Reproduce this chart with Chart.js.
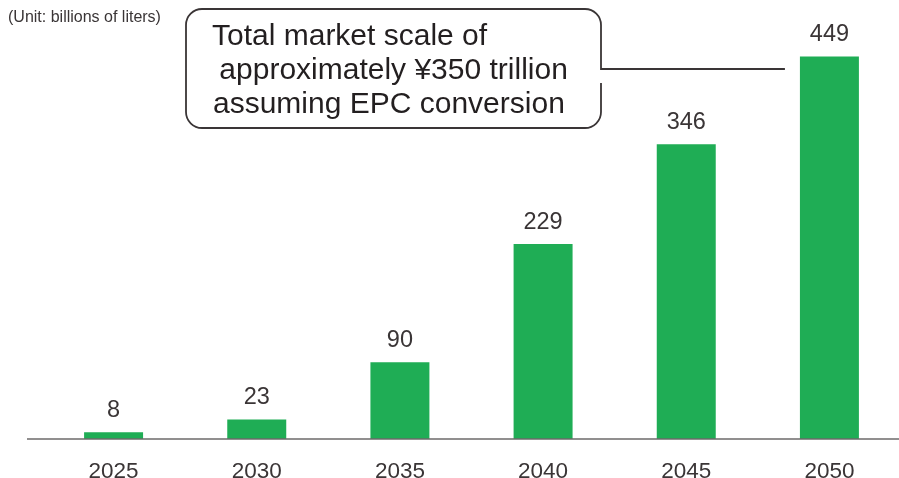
<!DOCTYPE html>
<html>
<head>
<meta charset="utf-8">
<script src="https://cdn.jsdelivr.net/npm/chart.js@4.4.1/dist/chart.umd.min.js"></script>
<style>
  html, body { margin: 0; padding: 0; background: #fff; }
  #wrap { width: 899px; height: 478px; overflow: hidden; }
</style>
</head>
<body>
<div id="wrap"><canvas id="marketChart" width="901" height="478"></canvas></div>
<script>
let years = ['2025', '2030', '2035', '2040', '2045', '2050'];
let volumes = [8, 23, 90, 229, 346, 449];
let unitText = '(Unit: billions of liters)';
let calloutLines = ['Total market scale of', ' approximately \u00a5350 trillion', 'assuming EPC conversion'];

Chart.defaults.font.family = '"Liberation Sans", Arial, sans-serif';
let textColor = '#3a3536';

// value above each bar, baseline line, unit note and the callout bubble
let overlay = {
    id: 'overlay',
    afterDatasetsDraw(chart) {
        let ctx = chart.ctx;
        let meta = chart.getDatasetMeta(0);
        let yZero = chart.scales.y.getPixelForValue(0);

        ctx.save();
        ctx.strokeStyle = '#6d6a6a';
        ctx.lineWidth = 1.5;
        ctx.beginPath();
        ctx.moveTo(27, yZero);
        ctx.lineTo(chart.width, yZero);
        ctx.stroke();

        ctx.fillStyle = textColor;
        ctx.font = '23.5px "Liberation Sans", Arial, sans-serif';
        ctx.textAlign = 'center';
        ctx.textBaseline = 'alphabetic';
        meta.data.forEach((bar, i) => {
            ctx.fillText(String(volumes[i]), bar.x, bar.y - 15);
        });

        ctx.font = '16px "Liberation Sans", Arial, sans-serif';
        ctx.textAlign = 'left';
        ctx.fillText(unitText, 8, 22);

        // bubble with its tail running out toward the last bar
        let last = meta.data[meta.data.length - 1];
        let l = 186, t = 9, r = 601, b = 128, rad = 16;
        let tailY = 69, gapEnd = 83;
        let tailX = last.x - last.width / 2 - 15;
        ctx.strokeStyle = '#3a3536';
        ctx.lineWidth = 1.8;
        ctx.beginPath();
        ctx.moveTo(r, gapEnd);
        ctx.lineTo(r, b - rad);
        ctx.arcTo(r, b, r - rad, b, rad);
        ctx.lineTo(l + rad, b);
        ctx.arcTo(l, b, l, b - rad, rad);
        ctx.lineTo(l, t + rad);
        ctx.arcTo(l, t, l + rad, t, rad);
        ctx.lineTo(r - rad, t);
        ctx.arcTo(r, t, r, t + rad, rad);
        ctx.lineTo(r, tailY);
        ctx.lineTo(tailX, tailY);
        ctx.stroke();

        ctx.fillStyle = '#231f20';
        ctx.font = '30px "Liberation Sans", Arial, sans-serif';
        ctx.fillText(calloutLines[0], 212, 45);
        ctx.fillText(calloutLines[1], 211, 79);
        ctx.fillText(calloutLines[2], 213, 113);
        ctx.restore();
    }
};

new Chart(document.getElementById('marketChart'), {
    type: 'bar',
    data: {
        labels: years,
        datasets: [{
            data: volumes,
            backgroundColor: '#1fad55',
            borderWidth: 0,
            categoryPercentage: 1,
            barPercentage: 0.412
        }]
    },
    options: {
        responsive: false,
        animation: false,
        devicePixelRatio: 1,
        layout: { padding: { top: 13, left: 42, right: 0, bottom: 0 } },
        plugins: {
            legend: { display: false },
            tooltip: { enabled: false }
        },
        scales: {
            x: {
                grid: { display: false, drawTicks: false },
                border: { display: false },
                ticks: {
                    color: textColor,
                    padding: 19,
                    font: { size: 22.5 }
                },
                afterFit: scale => { scale.height = 39; }
            },
            y: {
                display: false,
                min: 0,
                max: 500
            }
        }
    },
    plugins: [overlay]
});
</script>
</body>
</html>
